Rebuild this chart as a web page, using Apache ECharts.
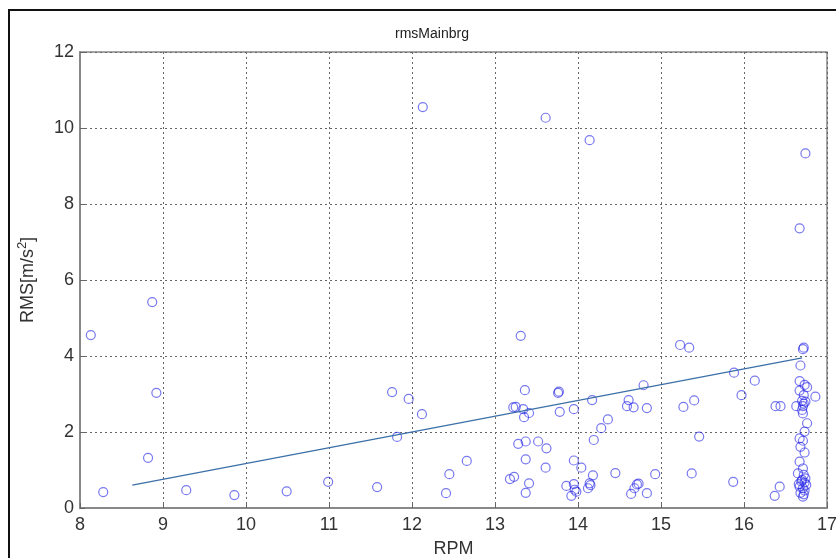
<!DOCTYPE html>
<html>
<head>
<meta charset="utf-8">
<script src="https://cdn.jsdelivr.net/npm/echarts@6/dist/echarts.min.js"></script>
<style>
  html, body { margin: 0; padding: 0; background: #fff; }
  #chart { width: 836px; height: 558px; }
</style>
</head>
<body>
<div id="chart"></div>
<script>
// Main bearing RMS vibration against rotor speed
const rpm = [
  8.13, 8.28, 8.82, 8.87, 8.92, 9.28, 9.86, 10.49, 10.99, 11.58,
  11.76, 11.82, 11.96, 12.12, 12.13, 12.41, 12.45, 12.66,
  13.31, 13.36, 13.22, 13.25, 13.34, 13.41, 13.35, 13.28, 13.37, 13.52,
  13.62, 13.37, 13.61, 13.18, 13.23, 13.41, 13.37, 13.61, 13.76, 13.77,
  13.78, 13.95, 13.86, 13.95, 13.96, 13.98, 13.92, 13.95, 14.04, 14.14,
  14.17, 14.19, 14.28, 14.36, 14.18, 14.14, 14.12, 14.15, 14.45,
  14.61, 14.59, 14.67, 14.79, 14.83, 14.64, 14.68, 14.71, 14.73, 14.83,
  14.93, 15.23, 15.34, 15.27, 15.40, 15.46, 15.37,
  15.88, 15.97, 16.13, 15.87, 16.38, 16.44, 16.43, 16.37,
  16.74, 16.67, 16.71, 16.72, 16.68, 16.67, 16.73, 16.76, 16.67, 16.72,
  16.70, 16.72, 16.71, 16.63, 16.70, 16.71, 16.74, 16.86, 16.76, 16.73,
  16.67, 16.71, 16.68, 16.73, 16.67, 16.71, 16.65, 16.72, 16.70, 16.73,
  16.67, 16.71, 16.75, 16.68, 16.71, 16.73, 16.69, 16.74, 16.66, 16.72
];
const rms = [
  4.55, 0.42, 1.32, 5.42, 3.03, 0.47, 0.34, 0.44, 0.69, 0.55,
  3.05, 1.87, 2.87, 2.47, 10.55, 0.39, 0.89, 1.24,
  4.53, 3.10, 2.65, 2.66, 2.60, 2.50, 2.39, 1.69, 1.75, 1.75,
  1.57, 1.28, 1.06, 0.76, 0.82, 0.65, 0.40, 10.27, 3.03, 3.06,
  2.53, 2.60, 0.58, 0.63, 0.48, 0.43, 0.32, 1.25, 1.06, 9.68,
  2.84, 1.79, 2.10, 2.33, 0.86, 0.65, 0.52, 0.60, 0.92,
  2.84, 2.68, 2.65, 3.23, 2.63, 0.37, 0.52, 0.62, 0.64, 0.39,
  0.89, 4.29, 4.22, 2.66, 2.83, 1.88, 0.91,
  3.56, 2.97, 3.35, 0.69, 2.68, 2.68, 0.56, 0.32,
  9.33, 7.36, 4.18, 4.22, 3.75, 3.34, 3.24, 3.18, 3.09, 2.97,
  2.82, 2.75, 2.68, 2.68, 2.58, 2.49, 2.80, 2.93, 2.23, 2.01,
  1.83, 1.77, 1.61, 1.46, 1.22, 1.04, 0.91, 0.87, 0.74, 0.67,
  0.56, 0.52, 0.61, 0.40, 0.30, 0.46, 0.70, 0.78, 0.63, 0.36
];

// Least-squares fit line endpoints
const fitRpm = [8.63, 16.70];
const fitRms = [0.60, 3.95];

const xTicks = [8, 9, 10, 11, 12, 13, 14, 15, 16, 17];
const yTicks = [0, 2, 4, 6, 8, 10, 12];

const points = rpm.map((x, i) => [x, rms[i]]);
const fitLine = fitRpm.map((x, i) => [x, fitRms[i]]);

const FONT = 'Liberation Sans, Arial, sans-serif';
const gridLine = { show: true, lineStyle: { color: '#666', width: 1, type: [2, 3] } };

const chart = echarts.init(document.getElementById('chart'), null, { renderer: 'canvas' });
chart.setOption({
  backgroundColor: '#fff',
  animation: false,
  title: {
    text: 'rmsMainbrg',
    left: 427,
    top: 22,
    textAlign: 'center',
    textStyle: { fontFamily: FONT, fontSize: 14, fontWeight: 'normal', color: '#222' }
  },
  graphic: [{
    type: 'rect',
    shape: { x: 9, y: 10, width: 900, height: 600 },
    style: { fill: 'none', stroke: '#111', lineWidth: 2 },
    silent: true
  }],
  grid: {
    left: 80, top: 52, right: 9, bottom: 50,
    outerBoundsMode: 'none',
    containLabel: false,
    show: true, borderColor: '#888', borderWidth: 1.5, backgroundColor: '#fff'
  },
  xAxis: {
    type: 'value',
    min: xTicks[0], max: xTicks[xTicks.length - 1], interval: 1,
    name: 'RPM', nameLocation: 'middle', nameGap: 32,
    nameTextStyle: { fontFamily: FONT, fontSize: 18, color: '#333' },
    axisLine: { show: true, lineStyle: { color: '#888', width: 2 } },
    axisTick: { show: true, inside: true, length: 5, lineStyle: { color: '#666' } },
    axisLabel: { fontFamily: FONT, fontSize: 18, color: '#333', margin: 8 },
    splitLine: gridLine
  },
  yAxis: {
    type: 'value',
    min: yTicks[0], max: yTicks[yTicks.length - 1], interval: 2,
    name: 'RMS[m/s{sup|2}]', nameLocation: 'middle', nameGap: 40,
    nameTextStyle: {
      fontFamily: FONT, fontSize: 18, color: '#333', lineHeight: 24,
      rich: {
        sup: { fontFamily: FONT, fontSize: 13, color: '#333', lineHeight: 13, verticalAlign: 'top' }
      }
    },
    axisLine: { show: true, lineStyle: { color: '#888', width: 2 } },
    axisTick: { show: true, inside: true, length: 5, lineStyle: { color: '#666' } },
    axisLabel: { fontFamily: FONT, fontSize: 18, color: '#333', margin: 6 },
    splitLine: gridLine
  },
  series: [
    {
      type: 'scatter',
      data: points,
      symbol: 'circle',
      symbolSize: 9,
      itemStyle: { color: 'rgba(0,0,0,0)', borderColor: 'rgba(30,30,230,0.75)', borderWidth: 1.2 },
      z: 3
    },
    {
      type: 'line',
      data: fitLine,
      symbol: 'none',
      lineStyle: { color: '#3b6fa8', width: 1.2 },
      z: 4
    }
  ]
});
</script>
</body>
</html>
